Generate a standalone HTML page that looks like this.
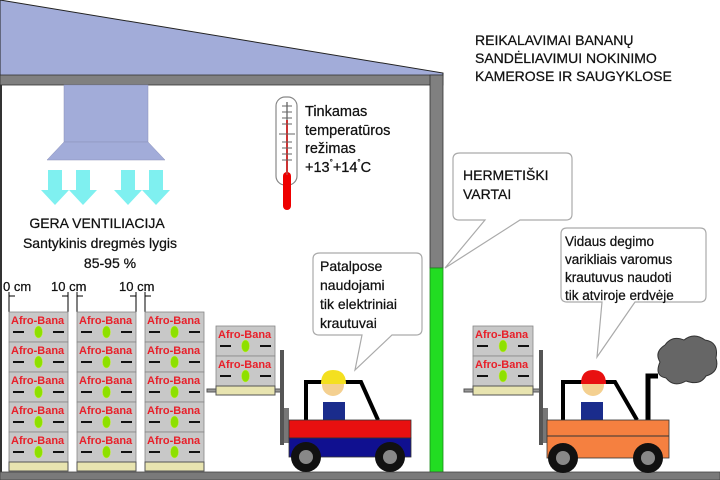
<!DOCTYPE html>
<html><head><meta charset="utf-8"><style>
html,body{margin:0;padding:0;background:#fff;}
svg{display:block;}
text{font-family:"Liberation Sans",sans-serif;fill:#111;stroke:#111;stroke-width:0.25px;}
.ab{fill:#e8202a;stroke:none;font-weight:bold;font-size:11px;}
</style></head><body>
<svg width="720" height="480" viewBox="0 0 720 480" xmlns="http://www.w3.org/2000/svg">
<rect width="720" height="480" fill="#fff"/>
<polygon points="0,0 443,73 443,76 0,76" fill="#a2acd9" stroke="#222" stroke-width="1"/>
<rect x="0" y="75" width="443" height="10" fill="#808080" stroke="#333" stroke-width="0.8"/>
<rect x="0" y="85" width="2" height="390" fill="#333"/>
<rect x="430" y="75" width="13" height="193" fill="#808080" stroke="#333" stroke-width="0.8"/>
<rect x="430" y="268" width="13" height="205" fill="#22dd22" stroke="#1a8a1a" stroke-width="0.8"/>
<rect x="0" y="472" width="720" height="8" fill="#7a7a7a" stroke="#444" stroke-width="0.8"/>
<rect x="64" y="85" width="84" height="57" fill="#a2acd9" stroke="#8a90b8" stroke-width="0.5"/>
<polygon points="64,142 148,142 165,160 47,160" fill="#a2acd9" stroke="#8a90b8" stroke-width="0.5"/>
<g fill="#7ff0f0">
<polygon points="48,170 62,170 62,190 69,190 55,205 41,190 48,190"/>
<polygon points="76,170 90,170 90,190 97,190 83,205 69,190 76,190"/>
<polygon points="121,170 135,170 135,190 142,190 128,205 114,190 121,190"/>
<polygon points="149,170 163,170 163,190 170,190 156,205 142,190 149,190"/>
</g>
<text x="97" y="228" font-size="14" text-anchor="middle">GERA VENTILIACIJA</text>
<text x="100" y="248" font-size="14" text-anchor="middle">Santykinis dregmės lygis</text>
<text x="110" y="268" font-size="14" text-anchor="middle">85-95 %</text>
<rect x="276" y="97" width="21" height="88" rx="9" fill="#fff" stroke="#888" stroke-width="1.2"/>
<rect x="283" y="172" width="8" height="38" rx="4" fill="#e00"/>
<line x1="287" y1="102" x2="287" y2="175" stroke="#999" stroke-width="2"/>
<line x1="287" y1="120" x2="287" y2="175" stroke="#c33" stroke-width="2"/>
<g stroke="#666" stroke-width="1">
<line x1="282" y1="106" x2="292" y2="106"/><line x1="282" y1="112" x2="292" y2="112"/><line x1="282" y1="118" x2="292" y2="118"/><line x1="282" y1="124" x2="292" y2="124"/><line x1="279" y1="134" x2="295" y2="134"/><line x1="282" y1="142" x2="292" y2="142"/><line x1="282" y1="148" x2="292" y2="148"/><line x1="282" y1="154" x2="292" y2="154"/><line x1="282" y1="160" x2="292" y2="160"/></g>
<g font-size="14.5"><text x="305" y="116">Tinkamas</text><text x="305" y="135">temperatūros</text><text x="305" y="153">režimas</text><text x="305" y="172">+13<tspan font-size="8" dy="-7">°</tspan><tspan dy="7">+14</tspan><tspan font-size="8" dy="-7">°</tspan><tspan dy="7">C</tspan></text></g>
<g font-size="14"><text x="475" y="45">REIKALAVIMAI BANANŲ</text><text x="475" y="63">SANDĖLIAVIMUI NOKINIMO</text><text x="475" y="81">KAMEROSE IR SAUGYKLOSE</text></g>
<path d="M460,153 H566 Q572,153 572,159 V214 Q572,220 566,220 H520 L445,268 L485,220 H459 Q453,220 453,214 V159 Q453,153 460,153 Z" fill="#fff" stroke="#aaa" stroke-width="1.2"/>
<g font-size="14"><text x="463" y="180">HERMETIŠKI</text><text x="463" y="199">VARTAI</text></g>
<path d="M320,253 H416 Q422,253 422,259 V329 Q422,335 416,335 H392 L355,370 L362,335 H319 Q313,335 313,329 V259 Q313,253 320,253 Z" fill="#fff" stroke="#aaa" stroke-width="1.2"/>
<g font-size="14"><text x="320" y="271">Patalpose</text><text x="320" y="290">naudojami</text><text x="320" y="309">tik elektriniai</text><text x="320" y="328">krautuvai</text></g>
<path d="M567,228 H700 Q706,228 706,234 V296 Q706,302 700,302 H635 L597,357 L602,302 H567 Q561,302 561,296 V234 Q561,228 567,228 Z" fill="#fff" stroke="#aaa" stroke-width="1.2"/>
<g font-size="13.5"><text x="565" y="246">Vidaus degimo</text><text x="565" y="264">varikliais varomus</text><text x="565" y="282">krautuvus naudoti</text><text x="565" y="300">tik atviroje erdvėje</text></g>
<g font-size="13"><text x="3" y="291">0 cm</text><text x="51" y="291">10 cm</text><text x="119" y="291">10 cm</text></g>
<g stroke="#000" stroke-width="1">
<line x1="9" y1="292" x2="9" y2="312"/><line x1="68" y1="292" x2="68" y2="312"/><line x1="77" y1="292" x2="77" y2="312"/><line x1="136" y1="292" x2="136" y2="312"/><line x1="145" y1="292" x2="145" y2="312"/>
<line x1="9" y1="296" x2="15" y2="296"/><line x1="62" y1="296" x2="68" y2="296"/><line x1="77" y1="296" x2="83" y2="296"/><line x1="130" y1="296" x2="136" y2="296"/><line x1="145" y1="296" x2="151" y2="296"/></g>
<g stroke="#888" stroke-width="0.8" fill="#c8c8c8">
<rect x="9" y="312" width="59" height="30"/><rect x="9" y="342" width="59" height="30"/><rect x="9" y="372" width="59" height="30"/><rect x="9" y="402" width="59" height="30"/><rect x="9" y="432" width="59" height="30"/>
<rect x="77" y="312" width="59" height="30"/><rect x="77" y="342" width="59" height="30"/><rect x="77" y="372" width="59" height="30"/><rect x="77" y="402" width="59" height="30"/><rect x="77" y="432" width="59" height="30"/>
<rect x="145" y="312" width="59" height="30"/><rect x="145" y="342" width="59" height="30"/><rect x="145" y="372" width="59" height="30"/><rect x="145" y="402" width="59" height="30"/><rect x="145" y="432" width="59" height="30"/>
<rect x="216" y="326" width="59" height="30"/><rect x="216" y="356" width="59" height="30"/>
<rect x="473" y="326" width="60" height="30"/><rect x="473" y="356" width="60" height="30"/>
</g>
<g class="ab">
<text class="ab" x="11" y="324">Afro-Bana</text><text class="ab" x="11" y="354">Afro-Bana</text><text class="ab" x="11" y="384">Afro-Bana</text><text class="ab" x="11" y="414">Afro-Bana</text><text class="ab" x="11" y="444">Afro-Bana</text>
<text class="ab" x="79" y="324">Afro-Bana</text><text class="ab" x="79" y="354">Afro-Bana</text><text class="ab" x="79" y="384">Afro-Bana</text><text class="ab" x="79" y="414">Afro-Bana</text><text class="ab" x="79" y="444">Afro-Bana</text>
<text class="ab" x="147" y="324">Afro-Bana</text><text class="ab" x="147" y="354">Afro-Bana</text><text class="ab" x="147" y="384">Afro-Bana</text><text class="ab" x="147" y="414">Afro-Bana</text><text class="ab" x="147" y="444">Afro-Bana</text>
<text class="ab" x="218" y="338">Afro-Bana</text><text class="ab" x="218" y="368">Afro-Bana</text>
<text class="ab" x="475" y="338">Afro-Bana</text><text class="ab" x="475" y="368">Afro-Bana</text>
</g>
<path stroke="#111" stroke-width="2" d="
M13,332h11M53,332h11M13,362h11M53,362h11M13,392h11M53,392h11M13,422h11M53,422h11M13,452h11M53,452h11
M81,332h11M121,332h11M81,362h11M121,362h11M81,392h11M121,392h11M81,422h11M121,422h11M81,452h11M121,452h11
M149,332h11M189,332h11M149,362h11M189,362h11M149,392h11M189,392h11M149,422h11M189,422h11M149,452h11M189,452h11
M220,346h11M260,346h11M220,376h11M260,376h11
M477,346h11M518,346h11M477,376h11M518,376h11"/>
<g fill="#8ee000" stroke="#c8f040" stroke-width="0.5">
<ellipse cx="38.5" cy="332" rx="4" ry="6"/><ellipse cx="38.5" cy="362" rx="4" ry="6"/><ellipse cx="38.5" cy="392" rx="4" ry="6"/><ellipse cx="38.5" cy="422" rx="4" ry="6"/><ellipse cx="38.5" cy="452" rx="4" ry="6"/>
<ellipse cx="106.5" cy="332" rx="4" ry="6"/><ellipse cx="106.5" cy="362" rx="4" ry="6"/><ellipse cx="106.5" cy="392" rx="4" ry="6"/><ellipse cx="106.5" cy="422" rx="4" ry="6"/><ellipse cx="106.5" cy="452" rx="4" ry="6"/>
<ellipse cx="174.5" cy="332" rx="4" ry="6"/><ellipse cx="174.5" cy="362" rx="4" ry="6"/><ellipse cx="174.5" cy="392" rx="4" ry="6"/><ellipse cx="174.5" cy="422" rx="4" ry="6"/><ellipse cx="174.5" cy="452" rx="4" ry="6"/>
<ellipse cx="245.5" cy="346" rx="4" ry="6"/><ellipse cx="245.5" cy="376" rx="4" ry="6"/>
<ellipse cx="503" cy="346" rx="4" ry="6"/><ellipse cx="503" cy="376" rx="4" ry="6"/>
</g>
<g fill="#e8e4b0" stroke="#555" stroke-width="1">
<rect x="9" y="462" width="59" height="9"/><rect x="77" y="462" width="59" height="9"/><rect x="145" y="462" width="59" height="9"/>
<rect x="207" y="389" width="74" height="3" fill="#999"/><rect x="216" y="386" width="59" height="9"/>
<rect x="464" y="389" width="76" height="3" fill="#999"/><rect x="473" y="386" width="60" height="9"/>
</g>
<rect x="280" y="350" width="4" height="95" fill="#555"/>
<rect x="284" y="408" width="5" height="35" fill="#777"/>
<path d="M306,422 V382 H361 L378,420" fill="none" stroke="#000" stroke-width="4"/>
<rect x="323" y="402" width="22" height="20" fill="#1a2c8c"/>
<circle cx="333" cy="385" r="11" fill="#f4d090"/>
<path d="M321,384 Q321,370 333,370 Q346,370 346,384 Z" fill="#f4e020"/>
<rect x="289" y="420" width="122" height="18" fill="#e81010" stroke="#333" stroke-width="0.8"/>
<rect x="289" y="438" width="122" height="19" fill="#101090" stroke="#333" stroke-width="0.8"/>
<circle cx="306" cy="457" r="15" fill="#111"/><circle cx="306" cy="457" r="7" fill="#888"/>
<circle cx="390" cy="457" r="15" fill="#111"/><circle cx="390" cy="457" r="7" fill="#888"/>
<rect x="539" y="350" width="4" height="95" fill="#555"/>
<rect x="543" y="408" width="5" height="35" fill="#777"/>
<path d="M563,422 V382 H615 L637,420" fill="none" stroke="#000" stroke-width="4"/>
<path d="M648,420 V376 H658" fill="none" stroke="#000" stroke-width="5"/>
<path d="M665,345 Q672,335 684,340 Q694,332 705,340 Q719,342 716,358 Q720,372 706,376 Q700,386 686,381 Q674,388 666,378 Q654,376 660,362 Q654,352 665,345 Z" fill="#666" stroke="#333" stroke-width="1"/>
<rect x="581" y="402" width="22" height="20" fill="#1a2c8c"/>
<circle cx="593" cy="385" r="11" fill="#f4d090"/>
<path d="M581,384 Q581,370 593,370 Q606,370 606,384 Z" fill="#e81010"/>
<rect x="547" y="420" width="122" height="38" fill="#f58040" stroke="#333" stroke-width="0.8"/>
<line x1="547" y1="436" x2="669" y2="436" stroke="#333" stroke-width="1"/>
<circle cx="563" cy="458" r="15" fill="#111"/><circle cx="563" cy="458" r="7" fill="#888"/>
<circle cx="648" cy="458" r="15" fill="#111"/><circle cx="648" cy="458" r="7" fill="#888"/>
</svg>
</body></html>
